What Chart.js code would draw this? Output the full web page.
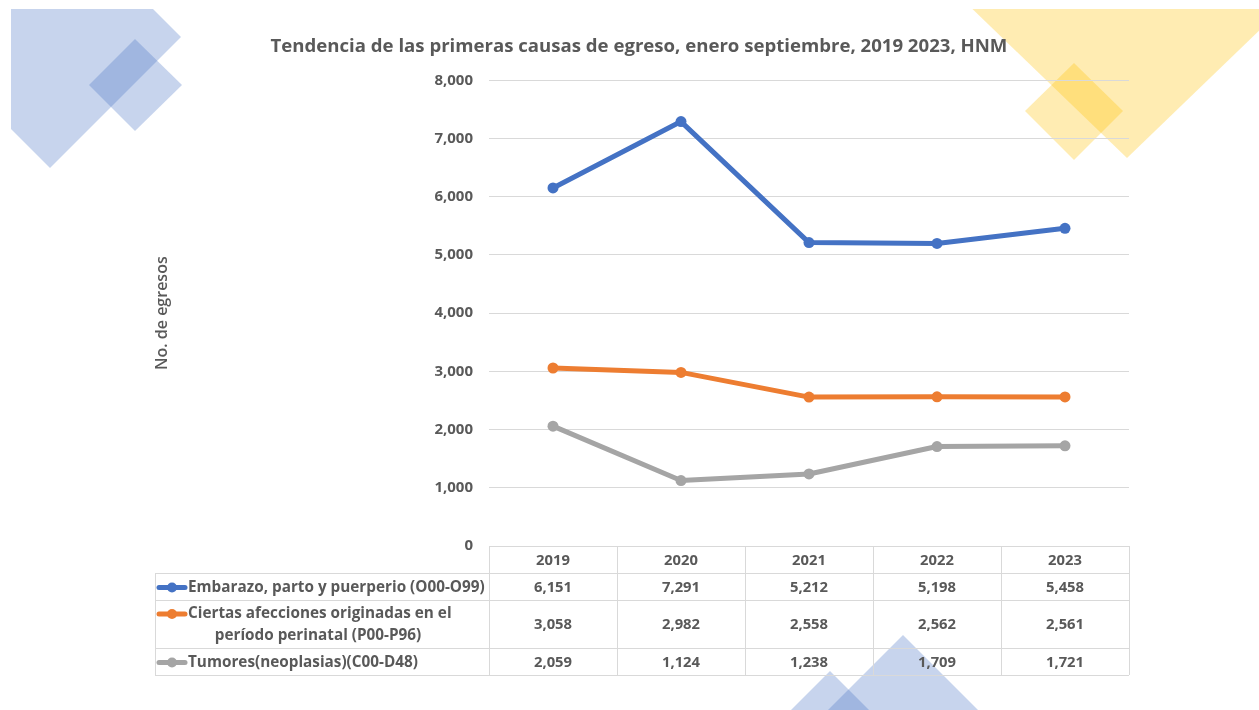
<!DOCTYPE html>
<html><head><meta charset="utf-8">
<script src="https://cdn.jsdelivr.net/npm/chart.js@4.4.0/dist/chart.umd.min.js"></script>
<style>
html,body{margin:0;padding:0;background:#fff;}
#wrap{position:relative;width:1259px;height:710px;overflow:hidden;}
#bg{position:absolute;left:0;top:0;}
#c{position:absolute;left:0;top:0;}
</style></head><body>
<div id="wrap">
<svg id="bg" width="1259" height="710">
<defs><clipPath id="slide"><rect x="11" y="9" width="1248" height="701"/></clipPath></defs>
<g clip-path="url(#slide)">
<polygon points="50,-94 181,37 50,168 -81,37" fill="#4472C4" fill-opacity="0.3"/>
<polygon points="135,39 182,85 135,131 89,85" fill="#4472C4" fill-opacity="0.3"/>
<polygon points="1127,-168 1293,-2 1127,158 961,-2" fill="#FFC000" fill-opacity="0.3"/>
<polygon points="1074,63 1123,111 1074,160 1025,111" fill="#FFC000" fill-opacity="0.3"/>
<polygon points="903,635 1003,735 903,835 803,735" fill="#4472C4" fill-opacity="0.3"/>
<polygon points="830,671 890,731 830,791 770,731" fill="#4472C4" fill-opacity="0.3"/>
</g></svg>
<canvas id="c" width="1259" height="710"></canvas>
</div>
<script>
const years = ['2019', '2020', '2021', '2022', '2023'];
const embarazo = [6151, 7291, 5212, 5198, 5458];
const perinatal = [3058, 2982, 2558, 2562, 2561];
const tumores = [2059, 1124, 1238, 1709, 1721];
const seriesNames = ['Embarazo, parto y puerperio (O00-O99)', 'Ciertas afecciones originadas en el período perinatal (P00-P96)', 'Tumores(neoplasias)(C00-D48)'];
const seriesLabelLines = [['Embarazo, parto y puerperio (O00-O99)'], ['Ciertas afecciones originadas en el', 'período perinatal (P00-P96)'], ['Tumores(neoplasias)(C00-D48)']];
const seriesColors = ['#4472C4', '#ED7D31', '#A5A5A5'];
const yMin = 0, yMax = 8000, yStep = 1000;
const titleText = 'Tendencia de las primeras causas de egreso, enero septiembre, 2019 2023, HNM';
const yTitle = 'No. de egresos';

const FONT = '"Open Sans", Lato, sans-serif';
const TXT = '#595959';
const GRID = '#D9D9D9';

const tablePlugin = {
  id: 'dataTable',
  afterDraw(chart) {
    const ctx = chart.ctx, xs = chart.scales.x, a = chart.chartArea;
    const n = years.length, cw = (a.right - a.left) / n;
    const L = 155;
    const rows = [a.bottom, a.bottom + 27, a.bottom + 54, a.bottom + 102, a.bottom + 129];
    ctx.save();
    ctx.strokeStyle = GRID; ctx.lineWidth = 1;
    ctx.beginPath();
    for (let r = 1; r < rows.length; r++) {
      ctx.moveTo(L, Math.round(rows[r]) + 0.5); ctx.lineTo(a.right, Math.round(rows[r]) + 0.5);
    }
    ctx.moveTo(L + 0.5, rows[1]); ctx.lineTo(L + 0.5, rows[4]);
    for (let i = 0; i <= n; i++) {
      const x = Math.round(a.left + i * cw) + 0.5;
      ctx.moveTo(x, rows[0]); ctx.lineTo(x, rows[4]);
    }
    ctx.stroke();
    ctx.fillStyle = TXT;
    ctx.textAlign = 'center'; ctx.textBaseline = 'middle';
    ctx.font = 'bold 14.8px ' + FONT;
    const fmt = v => v.toLocaleString('en-US');
    years.forEach((y, i) => ctx.fillText(y, xs.getPixelForValue(i), (rows[0] + rows[1]) / 2 + 1));
    const data = chart.data.datasets;
    data.forEach((ds, s) => {
      const cy = (rows[s + 1] + rows[s + 2]) / 2 + 1;
      ctx.font = 'bold 14.8px ' + FONT;
      ds.data.forEach((v, i) => { ctx.fillStyle = TXT; ctx.fillText(fmt(v), xs.getPixelForValue(i), cy); });
      const lines = seriesLabelLines[s];
      const lh = 22;
      const y0 = cy - (lines.length - 1) * lh / 2;
      ctx.strokeStyle = ds.borderColor; ctx.lineWidth = 5; ctx.lineCap = 'round';
      ctx.beginPath(); ctx.moveTo(159, y0); ctx.lineTo(185, y0); ctx.stroke();
      ctx.fillStyle = ds.borderColor; ctx.beginPath(); ctx.arc(172, y0, 5, 0, Math.PI * 2); ctx.fill();
      ctx.fillStyle = TXT;
      ctx.font = 'bold 15.3px ' + FONT;
      lines.forEach((t, k) => {
        if (k === 0) { ctx.textAlign = 'left'; ctx.fillText(t, 188, y0 + k * lh); }
        else { ctx.textAlign = 'center'; ctx.fillText(t, 318, y0 + k * lh); }
      });
      ctx.textAlign = 'center';
    });
    ctx.restore();
  }
};

const mk = (label, d, c) => ({ label, data: d, borderColor: c, backgroundColor: c, borderWidth: 5, pointRadius: 5.5, pointBorderWidth: 0, pointBackgroundColor: c, tension: 0, borderJoinStyle: 'round', borderCapStyle: 'round' });

new Chart(document.getElementById('c'), {
  type: 'line',
  data: {
    labels: years,
    datasets: [mk(seriesNames[0], embarazo, seriesColors[0]), mk(seriesNames[1], perinatal, seriesColors[1]), mk(seriesNames[2], tumores, seriesColors[2])]
  },
  options: {
    responsive: false, animation: false, locale: 'en-US',
    layout: { padding: { left: 149, right: 130, top: 0, bottom: 164 } },
    plugins: {
      legend: { display: false }, tooltip: { enabled: false },
      title: { display: true, text: titleText, color: TXT, font: { family: FONT, size: 18.6, weight: 'bold' }, padding: { top: 36, bottom: 22 } }
    },
    scales: {
      x: { type: 'category', offset: true, display: false },
      y: {
        min: yMin, max: yMax,
        afterFit(s) { s.width = 340; },
        ticks: { stepSize: yStep, color: TXT, padding: 16, font: { family: FONT, size: 15, weight: 'bold' } },
        grid: { color: GRID, drawTicks: false },
        border: { display: false },
        title: { display: true, text: yTitle, color: TXT, font: { family: FONT, size: 16, weight: '600' } }
      }
    }
  },
  plugins: [tablePlugin]
});
</script>
</body></html>
